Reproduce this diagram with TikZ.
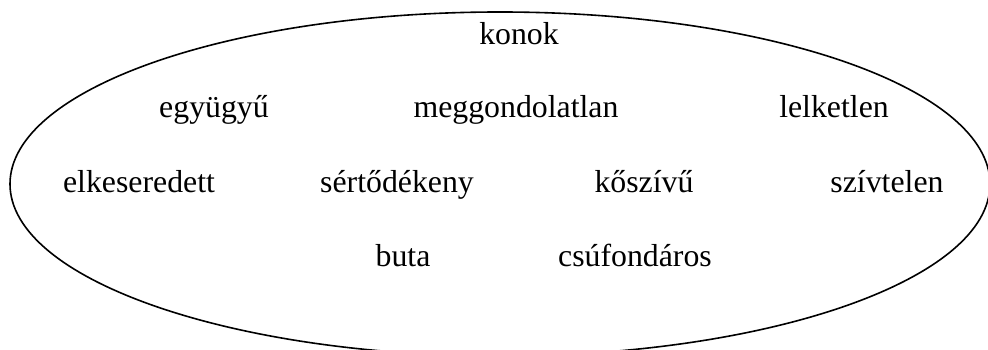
\documentclass[tikz,border=0pt]{standalone}
\usepackage{fontspec}
\setmainfont{Liberation Serif}
\begin{document}
\begin{tikzpicture}[x=1pt,y=1pt,
  word/.style={anchor=base,inner sep=0pt,font=\fontsize{31.8}{38}\selectfont}]
  \useasboundingbox (0,0) rectangle (988,350);
  \clip (0,0) rectangle (988,350);
  % outline
  \draw[line width=1.6pt] (500,166) ellipse [x radius=490, y radius=172];
  % words
  \node[word] (konok) at (519,305) {konok};
  \node[word] (egyugyu) at (214,232) {együgyű};
  \node[word] (meggondolatlan) at (516,232) {meggondolatlan};
  \node[word] (lelketlen) at (834,232) {lelketlen};
  \node[word] (elkeseredett) at (139,157) {elkeseredett};
  \node[word] (sertodekeny) at (397,157) {sértődékeny};
  \node[word] (koszivu) at (644,157) {kőszívű};
  \node[word] (szivtelen) at (887,157) {szívtelen};
  \node[word] (buta) at (403,83) {buta};
  \node[word] (csufondaros) at (635,83) {csúfondáros};
\end{tikzpicture}
\end{document}
